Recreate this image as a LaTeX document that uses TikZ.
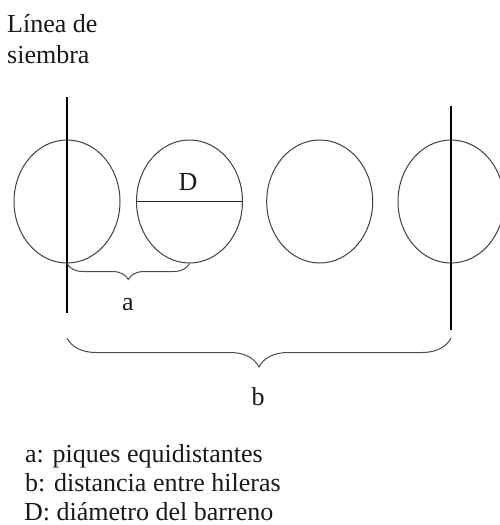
\documentclass[tikz,border=0pt]{standalone}
\usepackage{fontspec}
\setmainfont{Liberation Serif}
\usetikzlibrary{shapes.geometric,decorations.pathreplacing}
\begin{document}
\begin{tikzpicture}[x=1pt,y=-1pt,
  hole/.style={ellipse, draw=black!75, line width=1pt, minimum width=106pt, minimum height=123pt, inner sep=0pt},
  rowline/.style={draw=black, line width=1.5pt},
  bracestyle/.style={draw=black!70, line width=1pt, decorate, decoration={brace, mirror, amplitude=#1}},
  lbl/.style={font=\fontsize{26}{31}\selectfont, text=black!90, inner sep=0pt, anchor=base west},
  clbl/.style={font=\fontsize{26}{31}\selectfont, text=black!90, inner sep=0pt, anchor=base}
]
\useasboundingbox (0,0) rectangle (500,525);
\begin{scope}
\clip (0,0) rectangle (500,525);
\node[hole] (c1) at (67,201.5) {};
\node[hole] (c2) at (189.5,201.5) {};
\node[hole] (c3) at (319.7,201.5) {};
\node[hole] (c4) at (451,201.5) {};
\end{scope}
% row lines
\coordinate (l1t) at (67,97);
\coordinate (l1b) at (67,313);
\coordinate (l4t) at (451,106);
\coordinate (l4b) at (451,330);
\draw[rowline] (l1t) -- (l1b);
\draw[rowline] (l4t) -- (l4b);
% diameter
\draw[draw=black!85, line width=1.3pt] (c2.west) -- (c2.east);
\node[clbl] (D) at (188,190) {D};
% braces
\draw[bracestyle=16pt] (c1.south) -- (c2.south);
\node[clbl] (a) at (128,310) {a};
\coordinate (b1) at (67,338);
\coordinate (b2) at (451,338);
\draw[bracestyle=29pt] (b1) -- (b2);
\node[clbl] (b) at (258,405) {b};
% title
\node[lbl] (t1) at (7,32) {Línea de};
\node[lbl] (t2) at (7,63) {siembra};
% legend
\node[lbl] (g1) at (25,462) {a: piques equidistantes};
\node[lbl] (g2) at (25,491) {b: distancia entre hileras};
\node[lbl] (g3) at (24,520) {D: diámetro del barreno};
\end{tikzpicture}
\end{document}
